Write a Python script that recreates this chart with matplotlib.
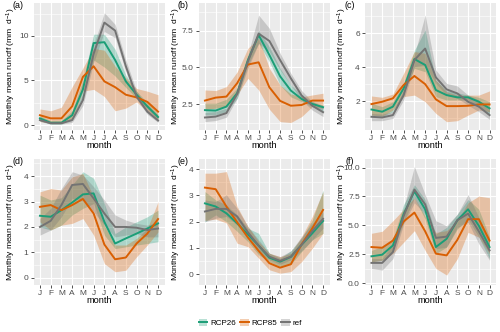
import matplotlib
matplotlib.use("Agg")
import matplotlib.pyplot as plt
from matplotlib.lines import Line2D
from matplotlib.patches import Patch
from matplotlib.legend_handler import HandlerTuple

plt.rcParams["font.family"] = ["Liberation Sans", "DejaVu Sans"]
plt.rcParams["mathtext.fontset"] = "custom"
plt.rcParams["mathtext.rm"] = "Liberation Sans"
plt.rcParams["mathtext.it"] = "Liberation Sans:italic"

months = ["J", "F", "M", "A", "M", "J", "J", "A", "S", "O", "N", "D"]
series = ["RCP26", "RCP85", "ref"]
colors = {"RCP26": "#1B9E77", "RCP85": "#D95F02", "ref": "#737373"}

# ── (a) ──────────────────────────────────────────────────────────────────────
a_ref = [0.55, 0.2, 0.2, 0.55, 2.8, 8.0, 11.5, 10.6, 6.6, 3.2, 1.5, 0.5]
a_ref_lo = [0.4, 0.1, 0.1, 0.3, 2.2, 7.0, 10.5, 9.8, 6.0, 2.9, 1.2, 0.3]
a_ref_hi = [0.7, 0.3, 0.3, 0.8, 3.5, 9.0, 12.6, 11.3, 7.3, 3.8, 2.0, 0.8]
a_26 = [0.75, 0.25, 0.25, 1.1, 4.0, 9.2, 9.3, 7.3, 4.9, 3.4, 2.1, 0.9]
a_26_lo = [0.5, 0.1, 0.1, 0.8, 3.2, 7.3, 6.5, 5.5, 4.2, 3.0, 1.8, 0.6]
a_26_hi = [1.0, 0.5, 0.5, 1.6, 5.0, 10.2, 10.2, 8.5, 5.6, 3.8, 2.5, 1.2]
a_85 = [1.1, 0.75, 0.75, 2.1, 5.4, 6.6, 4.9, 4.25, 3.4, 3.1, 2.6, 1.5]
a_85_lo = [0.4, 0.2, 0.2, 0.6, 3.8, 4.0, 3.2, 1.6, 1.9, 2.6, 1.5, 0.6]
a_85_hi = [1.8, 1.6, 2.0, 4.3, 6.4, 8.6, 8.4, 6.6, 5.3, 4.1, 3.8, 3.4]

# ── (b) ──────────────────────────────────────────────────────────────────────
b_ref = [1.6, 1.66, 1.9, 3.2, 5.4, 7.3, 6.8, 5.5, 4.26, 3.1, 2.4, 1.96]
b_ref_lo = [1.32, 1.39, 1.62, 2.9, 4.94, 6.64, 6.07, 4.83, 3.8, 2.79, 2.1, 1.66]
b_ref_hi = [1.93, 2.0, 2.23, 3.47, 5.85, 8.56, 7.66, 5.96, 4.6, 3.43, 2.68, 2.3]
b_26 = [2.1, 2.07, 2.34, 3.25, 5.5, 7.2, 5.85, 4.4, 3.43, 2.86, 2.52, 2.3]
b_26_lo = [1.78, 1.78, 2.0, 2.9, 5.17, 6.64, 5.4, 3.8, 3.0, 2.68, 2.34, 2.0]
b_26_hi = [2.57, 2.57, 2.84, 3.6, 5.74, 7.5, 6.4, 4.94, 3.8, 3.13, 2.68, 2.45]
b_85 = [2.75, 2.95, 3.02, 3.93, 5.2, 5.35, 3.65, 2.73, 2.4, 2.45, 2.75, 2.75]
b_85_lo = [2.16, 2.23, 2.34, 3.13, 4.26, 3.47, 2.16, 1.32, 1.26, 1.66, 2.34, 2.23]
b_85_hi = [3.47, 3.43, 3.7, 4.7, 6.3, 7.0, 4.94, 3.8, 3.2, 3.0, 3.13, 3.25]

# ── (c) ──────────────────────────────────────────────────────────────────────
c_ref = [1.07, 1.03, 1.17, 2.35, 4.42, 5.1, 3.4, 2.69, 2.45, 1.96, 1.67, 1.17]
c_ref_lo = [0.84, 0.84, 0.98, 2.06, 4.03, 4.13, 3.04, 2.35, 2.16, 1.76, 1.37, 0.92]
c_ref_hi = [1.27, 1.23, 1.37, 2.65, 4.72, 7.08, 3.83, 3.04, 2.89, 2.35, 2.06, 1.47]
c_26 = [1.5, 1.37, 1.67, 2.75, 4.48, 4.13, 2.65, 2.35, 2.22, 2.22, 1.96, 1.57]
c_26_lo = [1.17, 1.07, 1.37, 2.45, 3.93, 3.73, 2.26, 2.06, 2.06, 2.06, 1.67, 1.17]
c_26_hi = [1.86, 1.67, 1.96, 3.04, 5.0, 6.2, 3.24, 2.61, 2.49, 2.35, 2.22, 1.96]
c_85 = [1.82, 1.96, 2.16, 2.95, 3.48, 3.0, 2.1, 1.7, 1.7, 1.72, 1.8, 1.8]
c_85_lo = [1.17, 1.11, 1.47, 2.26, 2.35, 1.96, 1.27, 0.78, 0.84, 1.17, 1.47, 1.37]
c_85_hi = [2.3, 2.22, 2.41, 3.64, 4.92, 4.82, 3.24, 2.55, 2.35, 2.35, 2.35, 2.6]

# ── (d) ──────────────────────────────────────────────────────────────────────
d_ref = [2.0, 2.24, 2.86, 3.65, 3.69, 3.12, 2.53, 2.0, 2.0, 1.97, 1.88, 1.94]
d_ref_lo = [1.68, 1.88, 2.4, 3.12, 3.06, 2.6, 2.07, 1.61, 1.68, 1.74, 1.61, 1.61]
d_ref_hi = [2.33, 2.73, 3.51, 4.17, 4.04, 3.58, 3.06, 2.47, 2.27, 2.14, 2.07, 2.2]
d_26 = [2.44, 2.4, 2.66, 2.96, 3.28, 3.32, 2.2, 1.35, 1.55, 1.74, 1.94, 2.14]
d_26_lo = [2.0, 1.88, 2.07, 2.47, 2.73, 2.92, 1.68, 1.15, 1.22, 1.29, 1.35, 1.42]
d_26_hi = [3.25, 3.06, 3.15, 3.65, 4.17, 3.91, 2.92, 1.74, 2.0, 2.2, 2.4, 2.66]
d_85 = [2.79, 2.86, 2.66, 2.86, 3.1, 2.53, 1.31, 0.73, 0.8, 1.35, 1.74, 2.31]
d_85_lo = [2.2, 1.88, 2.07, 2.14, 2.33, 1.68, 0.56, 0.24, 0.3, 0.83, 1.29, 1.81]
d_85_hi = [3.38, 3.51, 3.45, 3.97, 4.1, 3.19, 2.07, 1.29, 1.29, 1.55, 1.94, 2.99]

# ── (e) ──────────────────────────────────────────────────────────────────────
e_ref = [2.39, 2.49, 2.49, 2.2, 1.6, 1.09, 0.67, 0.51, 0.67, 1.12, 1.65, 2.11]
e_ref_lo = [2.0, 2.13, 2.2, 1.88, 1.37, 0.86, 0.55, 0.38, 0.55, 0.89, 1.31, 1.75]
e_ref_hi = [2.83, 2.77, 3.02, 2.51, 1.82, 1.31, 0.8, 0.67, 0.89, 1.43, 1.94, 2.39]
e_26 = [2.7, 2.58, 2.32, 1.94, 1.52, 1.09, 0.63, 0.48, 0.66, 1.12, 1.56, 2.03]
e_26_lo = [2.0, 2.26, 2.0, 1.63, 1.24, 0.74, 0.48, 0.29, 0.38, 0.86, 1.31, 1.56]
e_26_hi = [3.15, 2.83, 2.64, 2.26, 1.75, 1.56, 0.8, 0.61, 0.89, 1.37, 2.07, 3.21]
e_85 = [3.3, 3.24, 2.58, 1.98, 1.4, 0.89, 0.42, 0.25, 0.38, 1.14, 1.75, 2.45]
e_85_lo = [2.05, 2.1, 1.95, 1.18, 1.05, 0.61, 0.17, 0.04, 0.1, 0.48, 0.99, 1.56]
e_85_hi = [3.85, 3.85, 3.91, 2.58, 1.82, 1.24, 0.8, 0.67, 0.8, 1.43, 2.2, 3.15]

# ── (f) ──────────────────────────────────────────────────────────────────────
f_ref = [1.76, 1.76, 2.7, 5.82, 8.1, 6.82, 3.92, 4.03, 5.45, 6.02, 4.49, 2.84]
f_ref_lo = [1.28, 1.14, 2.13, 5.11, 6.96, 5.97, 2.98, 3.13, 4.83, 5.26, 3.41, 1.99]
f_ref_hi = [2.13, 2.13, 3.41, 6.53, 10.09, 7.67, 5.4, 4.97, 5.97, 7.67, 5.68, 3.69]
f_26 = [2.33, 2.47, 3.27, 5.97, 7.95, 6.39, 3.13, 3.84, 5.45, 6.39, 4.97, 3.13]
f_26_lo = [1.85, 1.99, 2.84, 5.26, 7.39, 5.54, 2.56, 3.13, 4.69, 5.54, 3.98, 2.13]
f_26_hi = [2.84, 3.18, 3.84, 6.82, 8.52, 7.24, 4.26, 4.83, 5.97, 7.24, 6.39, 3.98]
f_85 = [3.13, 3.07, 3.69, 5.34, 6.11, 4.49, 2.56, 2.41, 3.75, 5.54, 5.54, 3.69]
f_85_lo = [1.85, 1.99, 2.56, 3.55, 4.55, 2.84, 1.28, 0.71, 2.13, 4.4, 3.98, 2.56]
f_85_hi = [4.32, 4.49, 5.4, 6.39, 7.39, 5.82, 4.4, 4.55, 5.4, 6.96, 7.53, 7.39]

panels = [
    ("(a)", {"RCP26": (a_26, a_26_lo, a_26_hi), "RCP85": (a_85, a_85_lo, a_85_hi),
             "ref": (a_ref, a_ref_lo, a_ref_hi)}),
    ("(b)", {"RCP26": (b_26, b_26_lo, b_26_hi), "RCP85": (b_85, b_85_lo, b_85_hi),
             "ref": (b_ref, b_ref_lo, b_ref_hi)}),
    ("(c)", {"RCP26": (c_26, c_26_lo, c_26_hi), "RCP85": (c_85, c_85_lo, c_85_hi),
             "ref": (c_ref, c_ref_lo, c_ref_hi)}),
    ("(d)", {"RCP26": (d_26, d_26_lo, d_26_hi), "RCP85": (d_85, d_85_lo, d_85_hi),
             "ref": (d_ref, d_ref_lo, d_ref_hi)}),
    ("(e)", {"RCP26": (e_26, e_26_lo, e_26_hi), "RCP85": (e_85, e_85_lo, e_85_hi),
             "ref": (e_ref, e_ref_lo, e_ref_hi)}),
    ("(f)", {"RCP26": (f_26, f_26_lo, f_26_hi), "RCP85": (f_85, f_85_lo, f_85_hi),
             "ref": (f_ref, f_ref_lo, f_ref_hi)}),
]

# axis limits / breaks per panel
ylims = [(-0.56, 13.7), (0.75, 9.38), (0.29, 7.79), (-0.28, 4.67), (-0.41, 4.39), (-0.15, 10.74)]
ymajor = [[0, 5, 10], [2.5, 5.0, 7.5], [2, 4, 6], [0, 1, 2, 3, 4], [0, 1, 2, 3, 4],
          [0.0, 2.5, 5.0, 7.5, 10.0]]
yfmt = ["{:g}", "{:.1f}", "{:g}", "{:g}", "{:g}", "{:.1f}"]

W, H = 500, 332
lefts = [33.5, 198.5, 365]
rows = [(3, 130), (159, 285)]
pw = 131

fig = plt.figure(figsize=(W / 100, H / 100), dpi=100)
x = list(range(12))
for i, (tag, data) in enumerate(panels):
    top, bot = rows[i // 3]
    ax = fig.add_axes([lefts[i % 3] / W, 1 - bot / H, pw / W, (bot - top) / H])
    ax.set_facecolor("#EBEBEB")
    for s in ax.spines.values():
        s.set_visible(False)
    ph = bot - top

    for name in series:
        mid, lo, hi = data[name]
        ax.fill_between(x, lo, hi, color=colors[name], alpha=0.3, lw=0, zorder=2)
    for name in series:
        mid, lo, hi = data[name]
        ax.plot(x, mid, color=colors[name], lw=1.4, zorder=3)

    lo_, hi_ = ylims[i]
    ax.set_xlim(-0.6, 11.6)
    ax.set_ylim(lo_, hi_)
    ax.set_xticks(x)
    ax.set_xticklabels(months)
    maj = ymajor[i]
    ax.set_yticks(maj)
    ax.set_yticklabels([yfmt[i].format(v) for v in maj])
    step = maj[1] - maj[0]
    minors = [maj[0] - step / 2] + [v + step / 2 for v in maj]
    ax.set_yticks([m for m in minors if lo_ < m < hi_], minor=True)
    ax.tick_params(axis="both", which="major", length=2.2, width=0.6, color="#333333",
                   labelsize=6, labelcolor="#4D4D4D", pad=1.5)
    ax.tick_params(axis="y", which="minor", length=0)
    ax.grid(which="major", color="white", lw=0.8, zorder=1)
    ax.grid(which="minor", axis="y", color="white", lw=0.4, zorder=1)
    ax.set_axisbelow(True)

    ax.text(0.5, -15.5 / ph, "month", transform=ax.transAxes, ha="center", va="center",
            fontsize=6.6)
    ax.text(-22.5 / pw, 0.5, "Monthly mean runoff (mm  d$^{-1}$)", transform=ax.transAxes,
            rotation=90, ha="center", va="center", fontsize=6.1)
    ax.text(-15.5 / pw, 1 - 2.8 / ph, tag, transform=ax.transAxes, ha="center",
            va="center", fontsize=6.4)

handles = [(Patch(facecolor=colors[n], alpha=0.3, lw=0), Line2D([], [], color=colors[n], lw=1.4))
           for n in series]
fig.legend(handles, series, loc="center", bbox_to_anchor=(0.5, 1 - 323 / H), ncol=3,
           frameon=False, fontsize=5.8, handlelength=1.1, handleheight=1.0,
           handletextpad=0.3, columnspacing=0.5,
           handler_map={tuple: HandlerTuple(ndivide=1)})

fig.savefig("out.png", dpi=100)
